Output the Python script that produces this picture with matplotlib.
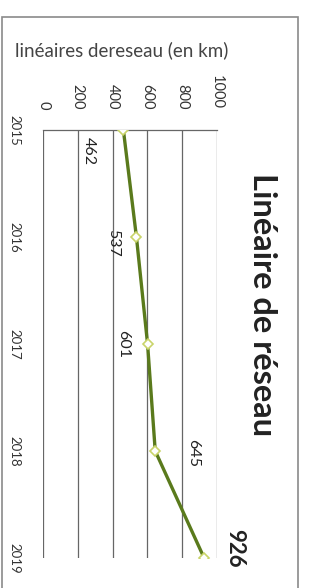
import matplotlib.pyplot as plt
from matplotlib.patches import Rectangle

years = [2015, 2016, 2017, 2018, 2019]
lineaire_km = [462, 537, 601, 645, 926]
value_ticks = [0, 200, 400, 600, 800, 1000]
# label offsets in pixels (dx, dy), rotated chart
label_offsets = [(-35, -21), (-23, -6), (-24, 0), (38, -2), (31, 10)]

plt.rcParams['font.family'] = ['Lato', 'DejaVu Sans']

fig = plt.figure(figsize=(3.10, 5.88), dpi=100)
fig.patch.set_facecolor('white')

# outer frame of the scanned chart
fig.patches.append(Rectangle((2 / 310, -0.01), 296 / 310, 1 - 17 / 588 + 0.01,
                             transform=fig.transFigure, fill=False,
                             edgecolor='#8a8a8a', linewidth=1.2))

ax = fig.add_axes([43 / 310, 30 / 588, 174 / 310, 428 / 588])
ax.plot(lineaire_km, years, color='#5a7a1c', linewidth=2.4,
        marker='D', markersize=5, markerfacecolor='white',
        markeredgecolor='#c9d46a', markeredgewidth=1.2, zorder=3)

ax.set_xlim(0, 1000)
ax.set_ylim(2019, 2015)
ax.set_xticks(value_ticks)
ax.set_yticks(years)
ax.xaxis.tick_top()
ax.tick_params(axis='x', labelrotation=-90, length=0, labelsize=10.5,
               labelcolor='#333333', pad=15)
ax.tick_params(axis='y', labelrotation=-90, length=0, labelsize=9.5,
               labelcolor='#333333', pad=16)
for lbl in ax.get_yticklabels():
    lbl.set_verticalalignment('center')
ax.grid(axis='x', color='#666666', linewidth=0.9)
for side in ['left', 'right', 'bottom']:
    ax.spines[side].set_visible(False)
ax.spines['top'].set_color('#666666')
ax.spines['top'].set_linewidth(0.9)

for (v, yr), (dx, dy) in zip(zip(lineaire_km, years), label_offsets):
    big = v == lineaire_km[-1]
    ax.annotate(str(v), (v, yr), xytext=(dx, dy), textcoords='offset pixels',
                rotation=-90, ha='center', va='center',
                fontsize=16 if big else 11.5,
                fontweight='bold' if big else 'normal', color='#222222')

fig.text(262 / 310, 1 - 305 / 588, 'Linéaire de réseau', rotation=-90,
         ha='center', va='center', fontsize=23.5, fontweight='bold',
         color='#222222')
fig.text(15 / 310, 1 - 50 / 588, 'linéaires dereseau (en km)',
         ha='left', va='center', fontsize=13.5, color='#444444')

fig.savefig('out.png', dpi=100)
